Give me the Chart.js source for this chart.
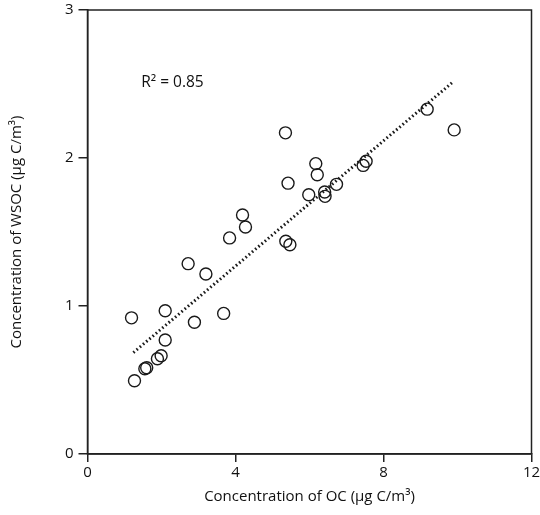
<!DOCTYPE html>
<html>
<head>
<meta charset="utf-8">
<script src="https://cdn.jsdelivr.net/npm/chart.js@4"></script>
<style>
  html, body { margin: 0; padding: 0; background: #fff; }
  #wrap { width: 540px; height: 515px; }
</style>
</head>
<body>
<div id="wrap"><canvas id="chart"></canvas></div>
<script>
// OC vs WSOC samples (ug C/m3)
const ocValues = [1.19, 1.27, 1.55, 1.60, 1.89, 1.99, 2.10, 2.10, 2.72, 2.89,
  3.20, 3.68, 3.84, 4.19, 4.27, 5.35, 5.42, 5.36, 5.47, 5.98,
  6.17, 6.21, 6.41, 6.42, 6.73, 7.45, 7.53, 9.18, 9.91];
const wsocValues = [0.92, 0.495, 0.576, 0.583, 0.644, 0.664, 0.77, 0.968, 1.286, 0.89,
  1.216, 0.95, 1.46, 1.615, 1.534, 2.17, 1.83, 1.437, 1.414, 1.752,
  1.962, 1.887, 1.77, 1.741, 1.822, 1.95, 1.978, 2.33, 2.19];

// fitted line ends
const fitX = [1.24, 9.86];
const fitY = [0.685, 2.51];

const xTicks = [0, 4, 8, 12];
const yTicks = [0, 1, 2, 3];
const r2Label = 'R² = 0.85';

const FONT = '"Open Sans", "Noto Sans", sans-serif';

const points = ocValues.map((x, i) => ({ x: x, y: wsocValues[i] }));
const fitLine = fitX.map((x, i) => ({ x: x, y: fitY[i] }));

// box around plot + R2 text
const framePlugin = {
  id: 'frame',
  afterDraw(chart) {
    const { ctx, chartArea: a, scales } = chart;
    ctx.save();
    ctx.strokeStyle = '#222';
    ctx.lineWidth = 1.5;
    ctx.strokeRect(a.left, a.top, a.right - a.left, a.bottom - a.top);
    ctx.fillStyle = '#111';
    ctx.font = '15.5px ' + FONT;
    ctx.textBaseline = 'middle';
    ctx.fillText(r2Label, scales.x.getPixelForValue(1.45), scales.y.getPixelForValue(2.51));
    ctx.restore();
  }
};

new Chart(document.getElementById('chart'), {
  type: 'scatter',
  data: {
    datasets: [
      {
        label: 'samples',
        data: points,
        pointStyle: 'circle',
        pointRadius: 6,
        pointBorderWidth: 1.4,
        borderColor: '#1a1a1a',
        backgroundColor: 'rgba(0,0,0,0)',
      },
      {
        type: 'line',
        label: 'fit',
        data: fitLine,
        borderColor: '#1a1a1a',
        borderWidth: 3,
        borderDash: [1.6, 2.6],
        pointRadius: 0,
        fill: false,
      }
    ]
  },
  options: {
    responsive: true,
    maintainAspectRatio: false,
    animation: false,
    layout: { padding: { left: 0, right: 8.5, top: 10, bottom: 9 } },
    plugins: { legend: { display: false }, tooltip: { enabled: false } },
    scales: {
      x: {
        type: 'linear',
        min: 0, max: 12,
        afterBuildTicks: s => { s.ticks = xTicks.map(v => ({ value: v })); },
        afterFit: s => { s.height = 52; s.paddingLeft = 0; s.paddingRight = 0; },
        grid: { display: true, drawOnChartArea: false, drawTicks: true, tickLength: 8, color: '#222', lineWidth: 1.5 },
        border: { display: true, color: '#222', width: 1.5 },
        ticks: { color: '#111', font: { family: FONT, size: 15 }, padding: 2, maxRotation: 0 },
        title: { display: true, text: 'Concentration of OC (μg C/m³)', color: '#111', font: { family: FONT, size: 15 }, padding: { top: 0, bottom: 0 } }
      },
      y: {
        type: 'linear',
        min: 0, max: 3,
        afterBuildTicks: s => { s.ticks = yTicks.map(v => ({ value: v })); },
        afterFit: s => { s.width = 87.5; s.paddingTop = 0; s.paddingBottom = 0; },
        grid: { display: true, drawOnChartArea: false, drawTicks: true, tickLength: 9, color: '#222', lineWidth: 1.5 },
        border: { display: true, color: '#222', width: 1.5 },
        ticks: { color: '#111', font: { family: FONT, size: 15 }, padding: 5 },
        title: { display: true, text: 'Concentration of WSOC (μg C/m³)', color: '#111', font: { family: FONT, size: 15 }, padding: { top: 8, bottom: 0 } }
      }
    }
  },
  plugins: [framePlugin]
});
</script>
</body>
</html>
